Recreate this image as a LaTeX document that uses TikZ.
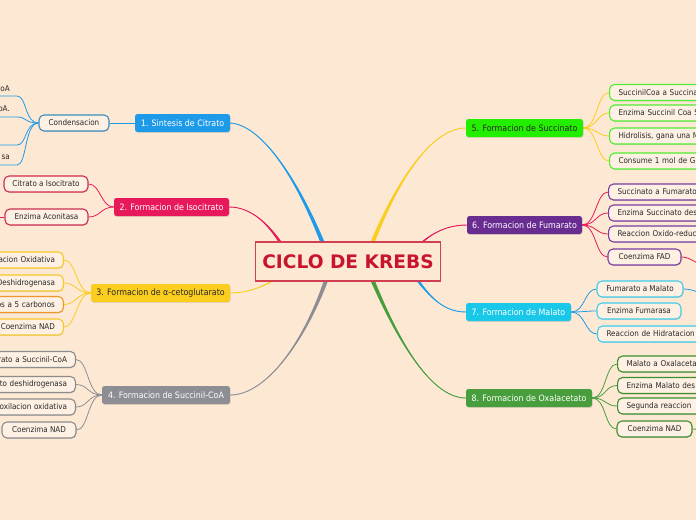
\documentclass[tikz,border=0pt]{standalone}
\usepackage{fontspec}
\setmainfont{DejaVu Sans Condensed}
\newfontfamily\titlefont{DejaVu Sans}
\usetikzlibrary{calc,shadows,backgrounds}
\definecolor{bg}{RGB}{253,233,211}
\definecolor{childfill}{RGB}{254,241,227}
\definecolor{txt}{RGB}{40,40,40}
\definecolor{ckred}{RGB}{200,20,45}
\definecolor{ckborder}{RGB}{208,64,80}
\definecolor{cBlue}{RGB}{30,155,232}
\definecolor{cCrim}{RGB}{232,25,90}
\definecolor{cYel}{RGB}{250,205,30}
\definecolor{cGray}{RGB}{140,142,148}
\definecolor{cLime}{RGB}{35,238,0}
\definecolor{cPurp}{RGB}{105,45,145}
\definecolor{cCyan}{RGB}{25,200,232}
\definecolor{cGreen}{RGB}{72,158,60}
\definecolor{bCond}{RGB}{60,140,190}
\definecolor{bCrim}{RGB}{205,45,80}
\definecolor{bYel}{RGB}{245,200,40}
\definecolor{bOra}{RGB}{240,150,40}
\definecolor{bGray}{RGB}{140,140,140}
\definecolor{bLime}{RGB}{80,235,50}
\definecolor{bPurp}{RGB}{120,60,160}
\definecolor{bCyan}{RGB}{60,205,235}
\definecolor{bGreen}{RGB}{60,140,45}
\newcommand\mmtaper[6]{%
  \fill[#1] ($#2+(-#6,0)$) .. controls ($#3+(-#6*0.5,0)$) and #4 .. #5
     .. controls #4 and ($#3+(#6*0.5,0)$) .. ($#2+(#6,0)$) -- cycle;
  \draw[#1,line width=0.9pt] #2 .. controls #3 and #4 .. #5;}
\begin{document}
\begin{tikzpicture}[x=1pt,y=-1pt,
  shad/.style={drop shadow={opacity=0.22,shadow xshift=0.5pt,shadow yshift=-0.9pt}},
  topic/.style={shad,rounded corners=2.5pt,inner sep=0pt,minimum height=18pt,
     text=white,font=\fontsize{8.8}{10}\selectfont},
  child/.style={shad,draw=#1,line width=1.1pt,fill=childfill,rounded corners=5pt,
     inner sep=0pt,minimum height=16pt,text=txt,font=\fontsize{8}{9.5}\selectfont},
  leftcut/.style={child=#1,anchor=east,text width=130pt,align=right,inner xsep=8.5pt},
  rightcut/.style={child=#1,anchor=west,text width=130pt,align=left,inner xsep=9pt},
  utext/.style={inner sep=0pt,text=txt,font=\fontsize{8}{9.5}\selectfont,anchor=east},
  sub/.style={line width=0.8pt},
  ckstyle/.style={shad,draw=ckborder,line width=1.3pt,fill=bg,minimum width=185pt,
     minimum height=39pt,inner sep=0pt,text=ckred,
     font=\titlefont\bfseries\fontsize{18.6}{20}\selectfont}]
\useasboundingbox (0,0) rectangle (696,520);
% central
\node[ckstyle] (ck) at (348,261.5) {CICLO DE KREBS};
% topics
\node[topic,fill=cBlue,minimum width=95pt] (t1) at (182.5,123) {1. Sintesis de Citrato};
\node[topic,fill=cCrim,minimum width=115pt] (t2) at (171.5,207) {2. Formacion de Isocitrato};
\node[topic,fill=cYel,text=txt,minimum width=139pt] (t3) at (160.5,293) {3. Formacion de α-cetoglutarato};
\node[topic,fill=cGray,minimum width=128pt] (t4) at (166,395) {4. Formacion de Succinil-CoA};
\node[topic,fill=cLime,text=txt,minimum width=117pt] (t5) at (524.5,128) {5. Formacion de Succinato};
\node[topic,fill=cPurp,minimum width=115pt] (t6) at (524.5,225) {6. Formacion de Fumarato};
\node[topic,fill=cCyan,minimum width=105pt] (t7) at (518.5,312) {7. Formacion de Malato};
\node[topic,fill=cGreen,minimum width=126pt] (t8) at (529,398) {8. Formacion de Oxalacetato};
% children left
\node[child=bCond,minimum width=70pt] (c11) at (74,123) {Condensacion};
\node[utext] (ut1) at (10,89) {oA};
\node[utext] (ut2) at (10,108.5) {oA.};
\node[utext] (ut4) at (10,157) {sa};
\coordinate (u1) at (17,96);   \coordinate (v1) at (-5,96);
\coordinate (u2) at (17,117);  \coordinate (v2) at (-5,117);
\coordinate (u3) at (17,145);  \coordinate (v3) at (-5,145);
\coordinate (u4) at (17,165);  \coordinate (v4) at (-5,165);
\node[child=bCrim,minimum width=84pt] (c21) at (46,184) {Citrato a Isocitrato};
\node[child=bCrim,minimum width=83pt] (c22) at (46.5,217) {Enzima Aconitasa};
\coordinate (v22) at (-5,217);
\node[leftcut=bYel] (c31) at (64,260) {acion Oxidativa};
\node[leftcut=bYel] (c32) at (64,283) {Deshidrogenasa};
\node[leftcut=bOra] (c33) at (64,304.5) {os a 5 carbonos};
\node[leftcut=bYel] (c34) at (64,327) {Coenzima NAD};
\node[leftcut=bGray] (c41) at (76,359.5) {rato a Succinil-CoA};
\node[leftcut=bGray] (c42) at (76,384.5) {to deshidrogenasa};
\node[leftcut=bGray] (c43) at (76,407) {boxilacion oxidativa};
\node[child=bGray,minimum width=74pt] (c44) at (39,430) {Coenzima NAD};
% children right
\node[rightcut=bLime] (c51) at (609,92.5) {SuccinilCoa a Succina};
\node[rightcut=bLime] (c52) at (609,113) {Enzima Succinil Coa S};
\node[rightcut=bLime] (c53) at (609,136) {Hidrolisis, gana una M};
\node[rightcut=bLime] (c54) at (609,161) {Consume 1 mol de G};
\node[rightcut=bPurp] (c61) at (608,192) {Succinato a Fumarato};
\node[rightcut=bPurp] (c62) at (608,213) {Enzima Succinato des};
\node[rightcut=bPurp] (c63) at (608,234) {Reaccion Oxido-reduc};
\node[child=bPurp,minimum width=73pt] (c64) at (644.5,257) {Coenzima FAD};
\coordinate (w64) at (708,267);
\node[child=bCyan,minimum width=86pt] (c71) at (640,289) {Fumarato a Malato};
\coordinate (w71) at (708,294);
\node[child=bCyan,minimum width=84pt] (c72) at (639,311) {Enzima Fumarasa};
\node[rightcut=bCyan] (c73) at (597,334) {Reaccion de Hidratacion};
\node[rightcut=bGreen] (c81) at (617,364) {Malato a Oxalaceta};
\node[rightcut=bGreen] (c82) at (617,385.5) {Enzima Malato des};
\node[rightcut=bGreen] (c83) at (617,406) {Segunda reaccion};
\node[child=bGreen,minimum width=75pt] (c84) at (654.5,429) {Coenzima NAD};
\coordinate (w84) at (708,432);
% start points inside the central box
\coordinate (s1) at ($(ck.center)+(-18,0.5)$);
\coordinate (s2) at ($(ck.center)+(-56,0.5)$);
\coordinate (s3) at ($(ck.center)+(-53,0.5)$);
\coordinate (s4) at ($(ck.center)+(-16,0.5)$);
\coordinate (s5) at ($(ck.center)+(17,0.5)$);
\coordinate (s6) at ($(ck.center)+(57,0.5)$);
\coordinate (s7) at ($(ck.center)+(57,0.5)$);
\coordinate (s8) at ($(ck.center)+(17,0.5)$);
\begin{scope}[on background layer]
  \fill[bg] (0,0) rectangle (696,520);
  % main branches
  \mmtaper{cBlue}{(s1)}{(300,180)}{(262,125)}{(t1.east)}{2.5}
  \mmtaper{cCrim}{(s2)}{(275,230)}{(255,207)}{(t2.east)}{2.5}
  \mmtaper{cYel}{(s3)}{(280,280)}{(255,293)}{(t3.east)}{2.5}
  \mmtaper{cGray}{(s4)}{(312,330)}{(270,395)}{(t4.east)}{2.5}
  \mmtaper{cYel}{(s5)}{(395,180)}{(432,128)}{(t5.west)}{2.5}
  \mmtaper{cCrim}{(s6)}{(420,240)}{(440,225)}{(t6.west)}{2.5}
  \mmtaper{cBlue}{(s7)}{(425,292)}{(440,312)}{(t7.west)}{2.5}
  \mmtaper{cGreen}{(s8)}{(392,330)}{(428,398)}{(t8.west)}{2.5}
  % topic 1
  \draw[sub,cBlue] (t1.west) -- (c11.east);
  \foreach \i in {1,2,3,4}{
    \draw[sub,cBlue] (c11.west) .. controls +(-14,0) and +(10,0) .. (u\i) -- (v\i);}
  % topic 2
  \foreach \c in {c21,c22}{
    \draw[sub,cCrim] (t2.west) .. controls +(-13,0) and +(12,0) .. (\c.east);}
  \draw[sub,cCrim] (c22.west) -- (v22);
  % topic 3
  \foreach \c in {c31,c32,c33,c34}{
    \draw[sub,cYel] (t3.west) .. controls +(-14,0) and +(12,0) .. (\c.east);}
  % topic 4
  \foreach \c in {c41,c42,c43,c44}{
    \draw[sub,cGray] (t4.west) .. controls +(-14,0) and +(12,0) .. (\c.east);}
  % topic 5
  \foreach \c in {c51,c52,c53,c54}{
    \draw[sub,cYel] (t5.east) .. controls +(14,0) and +(-12,0) .. (\c.west);}
  % topic 6
  \foreach \c in {c61,c62,c63,c64}{
    \draw[sub,cCrim] (t6.east) .. controls +(14,0) and +(-12,0) .. (\c.west);}
  \draw[sub,cCrim] (c64.east) .. controls +(10,0) and +(-8,0) .. (w64);
  % topic 7
  \foreach \c in {c71,c72,c73}{
    \draw[sub,cBlue] (t7.east) .. controls +(14,0) and +(-12,0) .. (\c.west);}
  \draw[sub,cBlue] (c71.east) .. controls +(10,0) and +(-8,0) .. (w71);
  % topic 8
  \foreach \c in {c81,c82,c83,c84}{
    \draw[sub,cGreen] (t8.east) .. controls +(14,0) and +(-12,0) .. (\c.west);}
  \draw[sub,cGreen] (c84.east) .. controls +(8,0) and +(-8,0) .. (w84);
\end{scope}
\end{tikzpicture}
\end{document}
